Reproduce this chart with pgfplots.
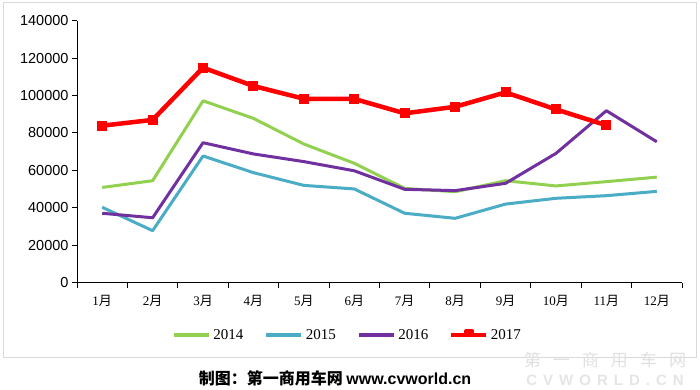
\documentclass[border=0pt]{standalone}
\usepackage{pgfplots}
\pgfplotsset{compat=1.18}
\usepackage{fontspec}
\setmainfont{Liberation Serif}
\setsansfont{Liberation Sans}
\newfontfamily\cjk{Noto Sans CJK SC}
\newcommand{\yue}{{\cjk 月}}
\definecolor{c14}{HTML}{92D050}
\definecolor{c15}{HTML}{4BACC6}
\definecolor{c16}{HTML}{7030A0}
\definecolor{c17}{HTML}{FF0000}
\begin{document}
\begin{tikzpicture}[x=1pt,y=1pt]
\useasboundingbox (0,0) rectangle (700,390);
\fill[white] (0,0) rectangle (700,390);
\draw[color=black!15, line width=1pt] (3,32) rectangle (696,387);
\begin{axis}[
  at={(77pt,107.3pt)}, anchor=south west,
  scale only axis, width=605pt, height=262pt,
  xmin=0, xmax=12, ymin=0, ymax=140000,
  axis x line=bottom, axis y line=left,
  axis line style={-, line width=1pt},
  xtick={0,...,12},
  x tick label as interval,
  xticklabels={1\yue,2\yue,3\yue,4\yue,5\yue,6\yue,7\yue,8\yue,9\yue,10\yue,11\yue,12\yue},
  x tick label style={font=\fontsize{13}{13}\selectfont, yshift=-4pt},
  ytick={0,20000,40000,60000,80000,100000,120000,140000},
  yticklabels={0,20000,40000,60000,80000,100000,120000,140000},
  scaled y ticks=false,
  y tick label style={font=\sffamily\fontsize{14.5}{14.5}\selectfont},
  tick align=outside,
  major tick length=5pt,
  tick style={line width=1pt, black},
  legend columns=4,
  legend style={at={(0.447,-0.2)}, anchor=center, draw=none, fill=none,
    font=\fontsize{15}{15}\selectfont,
    /tikz/every odd column/.append style={column sep=1pt},
    /tikz/every even column/.append style={column sep=19pt}},
  legend image code/.code={\draw[#1, line width=3.5pt] (0pt,0pt) -- (35pt,0pt);},
  clip=false,
]
\addplot[c14, line width=3pt, line join=round] coordinates {
 (0.5,50900) (1.5,54500) (2.5,97200) (3.5,87800) (4.5,74100) (5.5,63800)
 (6.5,50400) (7.5,48600) (8.5,54500) (9.5,51700) (10.5,54000) (11.5,56400)};
\addlegendentry{2014}
\addplot[c15, line width=3pt, line join=round] coordinates {
 (0.5,40300) (1.5,27800) (2.5,67700) (3.5,58800) (4.5,52000) (5.5,50100)
 (6.5,37100) (7.5,34400) (8.5,42000) (9.5,45100) (10.5,46500) (11.5,48800)};
\addlegendentry{2015}
\addplot[c16, line width=3pt, line join=round] coordinates {
 (0.5,37100) (1.5,34700) (2.5,74800) (3.5,68800) (4.5,64700) (5.5,59800)
 (6.5,49900) (7.5,49200) (8.5,53100) (9.5,69100) (10.5,91900) (11.5,75300)};
\addlegendentry{2016}
\addplot[c17, line width=4.5pt, line join=round, mark=square*, mark size=4.5pt,
  mark options={line width=0pt},
  legend image code/.code={\draw[c17, line width=3.5pt] (0pt,0pt) -- (35pt,0pt);
    \fill[c17] (15pt,0pt) rectangle (21pt,4pt);}] coordinates {
 (0.5,83900) (1.5,87000) (2.5,114900) (3.5,105100) (4.5,98300) (5.5,98200)
 (6.5,90500) (7.5,94000) (8.5,101700) (9.5,92600) (10.5,84100)};
\addlegendentry{2017}
\end{axis}
\node[font=\cjk\bfseries\fontsize{16}{16}\selectfont, anchor=center] at (335,12)
  {制图：第一商用车网 {\sffamily\bfseries www.cvworld.cn}};
\node[font=\cjk\fontsize{17}{17}\selectfont, color=black!12, anchor=center] at (605,30)
  {第\hspace{12pt}一\hspace{12pt}商\hspace{12pt}用\hspace{12pt}车\hspace{12pt}网};
\node[font=\sffamily\bfseries\fontsize{15}{15}\selectfont, color=black!10, anchor=center] at (605,10)
  {C\hspace{6pt}V\hspace{6pt}W\hspace{6pt}O\hspace{6pt}R\hspace{6pt}L\hspace{6pt}D\hspace{6pt}.\hspace{6pt}C\hspace{6pt}N};
\end{tikzpicture}
\end{document}
